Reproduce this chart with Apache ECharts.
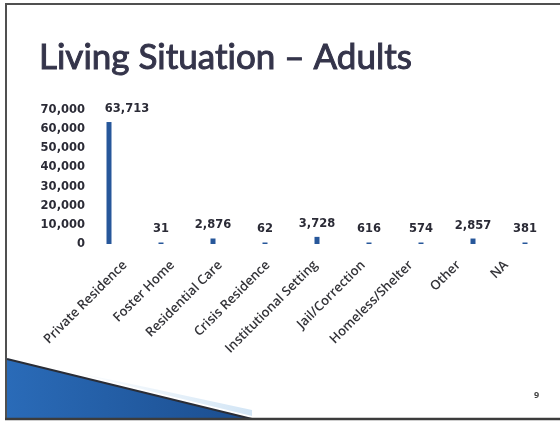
<!DOCTYPE html>
<html>
<head>
<meta charset="utf-8">
<script src="https://cdn.jsdelivr.net/npm/echarts@6/dist/echarts.min.js"></script>
<style>
  html, body { margin: 0; padding: 0; background: #ffffff; }
  #chart { width: 560px; height: 422px; }
</style>
</head>
<body>
<div id="chart"></div>
<script>
// Living situation of adult clients
const categories = [
  'Private Residence', 'Foster Home', 'Residential Care', 'Crisis Residence',
  'Institutional Setting', 'Jail/Correction', 'Homeless/Shelter', 'Other', 'NA'
];
const clients = [63713, 31, 2876, 62, 3728, 616, 574, 2857, 381];
const yTicks = { min: 0, max: 70000, interval: 10000 };

const textDark = '#2b2b36';
const barColor = '#27579a';
// regular Lato thickened with a same-colour outline for a medium weight
const titleFont = {
  fontFamily: 'Lato', fontSize: 35, fontWeight: 'normal', color: '#34344a',
  textBorderColor: '#34344a', textBorderWidth: 1
};

const chart = echarts.init(document.getElementById('chart'), null, { renderer: 'canvas' });

const barData = clients.map((v, i) => ({
  value: v,
  label: i === 0 ? { offset: [18, 0] } : undefined
}));

chart.setOption({
  backgroundColor: '#ffffff',
  animation: false,
  title: {
    // split into two rich runs so Lato does not fuse "ti" into a ligature
    text: 'Living Situat{b|ion \u2013 Adults}',
    left: 34,
    top: 35,
    textStyle: Object.assign({}, titleFont, { rich: { b: Object.assign({}, titleFont) } })
  },
  grid: [
    { left: 83, right: 9, top: 110, bottom: 178 },
    { left: 101, right: 30, top: 110, bottom: 178 }
  ],
  xAxis: [
    {
      type: 'category', data: categories, gridIndex: 0,
      axisLine: { show: false }, axisTick: { show: false }, axisLabel: { show: false }
    },
    {
      type: 'category', data: categories, gridIndex: 1,
      axisLine: { show: false }, axisTick: { show: false },
      axisLabel: {
        rotate: 45, margin: 19, interval: 0,
        fontFamily: 'Open Sans', fontSize: 13, fontWeight: 600, color: '#333338'
      }
    }
  ],
  yAxis: [
    {
      type: 'value', gridIndex: 0,
      min: yTicks.min, max: yTicks.max, interval: yTicks.interval,
      splitLine: { show: false }, axisLine: { show: false }, axisTick: { show: false },
      axisLabel: {
        margin: -2,
        fontFamily: 'DejaVu Sans', fontSize: 11.5, fontWeight: 'bold', color: textDark,
        formatter: v => v.toLocaleString('en-US')
      }
    },
    {
      type: 'value', gridIndex: 1, show: false,
      min: yTicks.min, max: yTicks.max, interval: yTicks.interval
    }
  ],
  series: [{
    type: 'bar',
    xAxisIndex: 0, yAxisIndex: 0,
    data: barData,
    barWidth: 5,
    barMinHeight: 1.5,
    itemStyle: { color: barColor },
    label: {
      show: true, position: 'top', distance: 7,
      fontFamily: 'DejaVu Sans', fontSize: 11.5, fontWeight: 'bold', color: textDark,
      formatter: p => p.value.toLocaleString('en-US')
    }
  }],
  graphic: [
    // slide frame
    { type: 'line', shape: { x1: 5, y1: 4, x2: 560, y2: 4 }, style: { stroke: '#505050', lineWidth: 2 } },
    { type: 'line', shape: { x1: 6, y1: 3, x2: 6, y2: 420 }, style: { stroke: '#505050', lineWidth: 2 } },
    // light sheen above the corner wedge
    {
      type: 'polygon',
      shape: { points: [[60, 369], [252, 416], [252, 410], [150, 388]] },
      style: {
        fill: new echarts.graphic.LinearGradient(0, 0, 1, 0, [
          { offset: 0, color: 'rgba(215,232,246,0)' },
          { offset: 1, color: 'rgba(205,226,244,0.9)' }
        ])
      }
    },
    // blue corner wedge
    {
      type: 'polygon',
      shape: { points: [[7, 359], [252, 419], [7, 419]] },
      style: {
        fill: new echarts.graphic.LinearGradient(0, 0, 1, 0, [
          { offset: 0, color: '#2a6bb8' },
          { offset: 1, color: '#1b4d8e' }
        ])
      }
    },
    {
      type: 'polyline',
      shape: { points: [[7, 359], [252, 419]] },
      style: { stroke: '#2a2d36', lineWidth: 2, fill: null }
    },
    { type: 'line', shape: { x1: 5, y1: 419, x2: 560, y2: 419 }, style: { stroke: '#3c3c3c', lineWidth: 2.5 } },
    // page number
    {
      type: 'text', left: 534, top: 391,
      style: { text: '9', fontFamily: 'Open Sans', fontSize: 9, fontWeight: 'bold', fill: '#444' }
    }
  ]
});
</script>
</body>
</html>
